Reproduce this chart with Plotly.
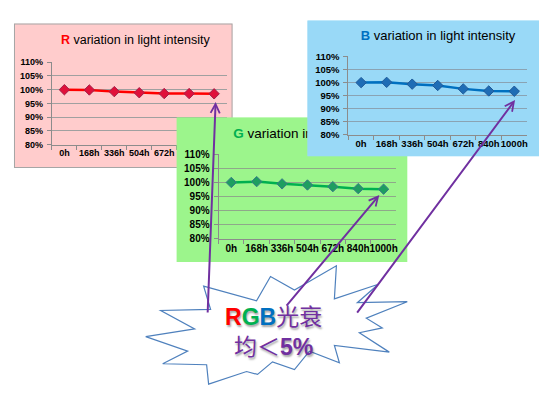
import plotly.graph_objects as go

# ---------------- data ----------------
categories = ["0h", "168h", "336h", "504h", "672h", "840h", "1000h"]
r_values = [100, 99.9, 99.3, 98.9, 98.6, 98.6, 98.5]
g_values = [100, 100.3, 99.5, 99.1, 98.5, 97.8, 97.6]
b_values = [100, 100.1, 99.4, 98.9, 97.6, 96.8, 96.7]
y_ticks = [80, 85, 90, 95, 100, 105, 110]
y_tick_labels = [f"{v}%" for v in y_ticks]

r_title = '<b><span style="color:#FF0000">R</span></b> variation in light intensity'
g_title = '<b><span style="color:#00B050">G</span></b> variation in light intensity'
b_title = '<b><span style="color:#0070C0">B</span></b> variation in light intensity'
callout_text = ('<b><span style="color:#FF0000">R</span><span style="color:#00B050">G</span>'
                '<span style="color:#0070C0">B</span></b>光衰<br>均＜<b>5%</b>')

# ---------------- geometry (pixels) ----------------
W, H = 551, 394


def fx(x):
    return x / W


def fy(y):
    return 1 - y / H


panels = [
    dict(values=r_values, title=r_title, bg=(14, 18, 233, 167), plot=(52, 58, 227, 143),
         fill="#FFCCCC", border="#A6A6A6", title_x=0.215, title_size=12.5,
         line="#FF0000", marker="#E0103A", marker_line="#A0204A", tick_size=9, grid="#A0A0A0"),
    dict(values=g_values, title=g_title, bg=(177, 115, 408, 264), plot=(219, 153, 397, 240),
         fill="#9CF58C", border="#9CF58C", title_x=0.245, title_size=13.5,
         line="#00B050", marker="#1E9E60", marker_line="#3A7A8A", tick_size=10, grid="#8FA88A"),
    dict(values=b_values, title=b_title, bg=(308, 15, 540, 155), plot=(349, 52, 528, 133),
         fill="#99D9F7", border="#99D9F7", title_x=0.23, title_size=13,
         line="#0070C0", marker="#1F6DB5", marker_line="#1F5A99", tick_size=9.5, grid="#8AA3B3"),
]

fig = go.Figure()
layout = dict(
    width=W, height=H, margin=dict(l=0, r=0, t=0, b=0),
    paper_bgcolor="white", plot_bgcolor="rgba(0,0,0,0)", showlegend=False,
    shapes=[], annotations=[],
)
FONT = "Arial, Liberation Sans, sans-serif"

for i, p in enumerate(panels):
    kb, kc = 2 * i + 1, 2 * i + 2
    xb = "x" if kb == 1 else f"x{kb}"
    yb = "y" if kb == 1 else f"y{kb}"
    xc, yc = f"x{kc}", f"y{kc}"
    bx0, by0, bx1, by1 = p["bg"]
    px0, py0, px1, py1 = p["plot"]

    # background subplot (box + title)
    layout["xaxis" if kb == 1 else f"xaxis{kb}"] = dict(
        domain=[fx(bx0), fx(bx1)], range=[0, 1], visible=False, fixedrange=True, anchor=yb)
    layout["yaxis" if kb == 1 else f"yaxis{kb}"] = dict(
        domain=[fy(by1), fy(by0)], range=[0, 1], visible=False, fixedrange=True, anchor=xb)
    layout["shapes"].append(dict(
        type="rect", xref=xb, yref=yb, x0=0, x1=1, y0=0, y1=1, layer="below",
        fillcolor=p["fill"], line=dict(color=p["border"], width=2)))
    fig.add_trace(go.Scatter(
        x=[p["title_x"]], y=[0.88], mode="text", text=[p["title"]],
        textposition="middle right", cliponaxis=False, hoverinfo="skip",
        textfont=dict(family=FONT, size=p["title_size"], color="#000000"),
        xaxis=xb, yaxis=yb))

    # chart subplot
    layout[f"xaxis{kc}"] = dict(
        domain=[fx(px0), fx(px1)], type="category", range=[-0.5, 6.5], anchor=yc,
        showgrid=False, showline=True, linecolor="#8C8C8C", linewidth=1,
        ticks="outside", tickson="boundaries", ticklen=4, tickcolor="#8C8C8C",
        tickangle=0,
        tickfont=dict(family=FONT, size=p["tick_size"], color="#000000", weight="bold"),
        fixedrange=True)
    layout[f"yaxis{kc}"] = dict(
        domain=[fy(py1), fy(py0)], range=[80, 110], anchor=xc,
        tickvals=y_ticks, ticktext=y_tick_labels,
        showgrid=True, gridcolor=p["grid"], gridwidth=1, zeroline=False,
        showline=True, linecolor="#8C8C8C", linewidth=1,
        ticks="outside", ticklen=4, tickcolor="#8C8C8C", ticklabelstandoff=2,
        tickfont=dict(family=FONT, size=p["tick_size"], color="#000000", weight="bold"),
        fixedrange=True)
    fig.add_trace(go.Scatter(
        x=categories, y=p["values"], mode="lines+markers",
        line=dict(color=p["line"], width=2.5),
        marker=dict(symbol="diamond", size=8, color=p["marker"],
                    line=dict(color=p["marker_line"], width=1)),
        cliponaxis=False, hoverinfo="skip", xaxis=xc, yaxis=yc))

# ---------------- starburst callout ----------------
burst = [(204, 289), (257, 304), (271, 279), (295, 293), (337, 268), (335, 302),
         (379, 287), (358, 306), (408, 305), (367, 322), (383, 332), (360, 337),
         (390, 357), (335, 350), (340, 368), (310, 356), (295, 375), (273, 367),
         (258, 380), (247, 377), (209, 390), (207, 370), (163, 369), (188, 356),
         (146, 341), (195, 333), (161, 314), (211, 313)]
path = "M " + " L ".join(f"{fx(x):.5f},{fy(y):.5f}" for x, y in burst) + " Z"
layout["shapes"].append(dict(
    type="path", path=path, xref="paper", yref="paper", layer="above",
    fillcolor="white", line=dict(color="#4F81BD", width=1.2)))

layout["annotations"].append(dict(
    x=fx(274), y=fy(336), xref="paper", yref="paper", text=callout_text,
    showarrow=False, xanchor="center", yanchor="middle", align="center",
    font=dict(family="Arial, Noto Sans CJK SC", size=23, color="#7030A0",
              shadow="1px 2px 2px rgba(0,0,0,0.35)")))

# ---------------- arrows ----------------
arrows = [((216, 99), (208, 311)), ((380, 195), (286, 307)), ((516, 97), (357, 311))]
for (hx, hy), (tx, ty) in arrows:
    layout["annotations"].append(dict(
        x=fx(hx), y=fy(hy), xref="paper", yref="paper", text="",
        showarrow=True, axref="pixel", ayref="pixel", ax=tx - hx, ay=ty - hy,
        arrowhead=5, arrowsize=0.9, arrowwidth=2, arrowcolor="#7030A0", standoff=0))

fig.update_layout(**layout)
fig.write_html(
    "out.html",
    config={"displayModeBar": False, "staticPlot": True},
    post_script="document.body.style.margin='0';document.body.style.overflow='hidden';")
